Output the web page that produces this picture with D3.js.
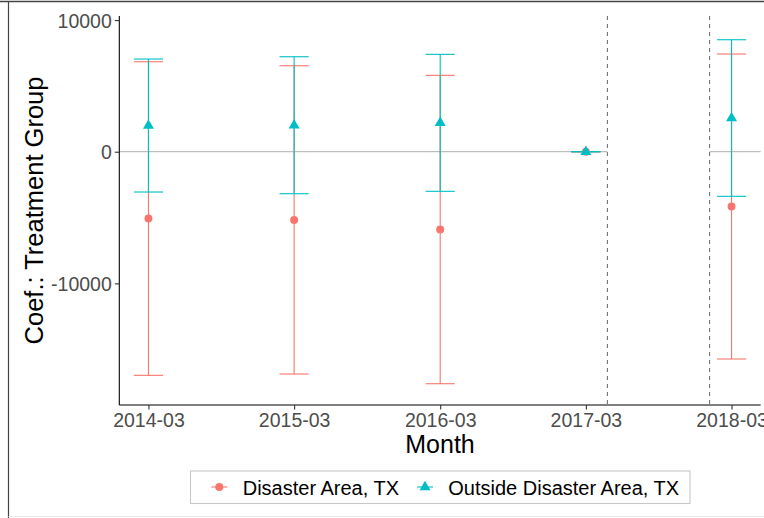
<!DOCTYPE html>
<html>
<head>
<meta charset="utf-8">
<script src="https://cdn.jsdelivr.net/npm/d3@7"></script>
<style>
  body { margin: 0; background: #fff; }
  svg { display: block; font-family: "Liberation Sans", Arial, sans-serif; }
</style>
</head>
<body>
<script>
// event-study coefficients
var months = ["2014-03", "2015-03", "2016-03", "2017-03", "2018-03"];
var seriesNames = ["Disaster Area, TX", "Outside Disaster Area, TX"];

var disasterCoef = [-5070, -5180, -5910, 0, -4160];
var disasterLow  = [-16985, -16886, -17623, 0, -15746];
var disasterHigh = [6836, 6532, 5803, 0, 7421];

var outsideCoef = [1990, 2010, 2200, 0, 2560];
var outsideLow  = [-3061, -3190, -3008, 0, -3388];
var outsideHigh = [7041, 7216, 7398, 0, 8507];

var yTicks = [-10000, 0, 10000];
var refDates = ["2017-04-24", "2018-01-05"]; // dashed vertical lines

var width = 764;
var height = 518;
var panel = {left: 119.3, right: 760.7, top: 16, bottom: 405};
var colors = ["#F8766D", "#00BFC4"];

var parseMonth = d3.timeParse("%Y-%m");
var parseDay = d3.timeParse("%Y-%m-%d");
var dates = months.map(parseMonth);

// ggplot style 5% expansion on each side
var span = dates[dates.length - 1] - dates[0];
var xScale = d3.scaleTime()
               .domain([new Date(+dates[0] - 0.05 * span), new Date(+dates[dates.length - 1] + 0.05 * span)])
               .range([panel.left, panel.right]);

var yScale = d3.scaleLinear()
               .domain([-19240, 10310])
               .range([panel.bottom, panel.top]);

var series = [
  {name: seriesNames[0], coef: disasterCoef, low: disasterLow, high: disasterHigh, color: colors[0]},
  {name: seriesNames[1], coef: outsideCoef, low: outsideLow, high: outsideHigh, color: colors[1]}
];

var svg = d3.select("body")
            .append("svg")
            .attr("width", width)
            .attr("height", height);

svg.append("rect").attr("width", width).attr("height", height).attr("fill", "#fff");

// outer frame of the screenshot
svg.append("line").attr("x1", 0).attr("x2", width).attr("y1", 1.5).attr("y2", 1.5)
   .attr("stroke", "#444").attr("stroke-width", 1.5);
svg.append("line").attr("x1", 8.5).attr("x2", 8.5).attr("y1", 1.5).attr("y2", height)
   .attr("stroke", "#444").attr("stroke-width", 1.2);
svg.append("line").attr("x1", 8.5).attr("x2", width).attr("y1", 516.5).attr("y2", 516.5)
   .attr("stroke", "#e6e6e6").attr("stroke-width", 1);

var plot = svg.append("g");

var refX = refDates.map(function(d){ return xScale(parseDay(d)); });

// zero line, interrupted between the dashed lines
plot.append("line")
    .attr("x1", panel.left).attr("x2", refX[0])
    .attr("y1", yScale(0)).attr("y2", yScale(0))
    .attr("stroke", "#BEBEBE").attr("stroke-width", 1.2);
plot.append("line")
    .attr("x1", refX[1]).attr("x2", panel.right)
    .attr("y1", yScale(0)).attr("y2", yScale(0))
    .attr("stroke", "#BEBEBE").attr("stroke-width", 1.2);

plot.selectAll(".ref")
    .data(refX)
    .enter()
    .append("line")
    .attr("class", "ref")
    .attr("x1", function(d){ return d; })
    .attr("x2", function(d){ return d; })
    .attr("y1", panel.top)
    .attr("y2", panel.bottom)
    .attr("stroke", "#777")
    .attr("stroke-width", 1.1)
    .attr("stroke-dasharray", "4,4");

var capHalf = 14.6;

series.forEach(function(s){
  var g = plot.append("g");
  dates.forEach(function(d, i){
    var x = xScale(d);
    g.append("line")
     .attr("x1", x).attr("x2", x)
     .attr("y1", yScale(s.low[i])).attr("y2", yScale(s.high[i]))
     .attr("stroke", s.color).attr("stroke-width", 1.1);
    g.append("line")
     .attr("x1", x - capHalf).attr("x2", x + capHalf)
     .attr("y1", yScale(s.low[i])).attr("y2", yScale(s.low[i]))
     .attr("stroke", s.color).attr("stroke-width", 1.1);
    g.append("line")
     .attr("x1", x - capHalf).attr("x2", x + capHalf)
     .attr("y1", yScale(s.high[i])).attr("y2", yScale(s.high[i]))
     .attr("stroke", s.color).attr("stroke-width", 1.1);
  });
});

var circleSym = d3.symbol().type(d3.symbolCircle).size(50);
var triSym = d3.symbol().type(d3.symbolTriangle).size(52);

series.forEach(function(s, k){
  plot.selectAll(".pt" + k)
      .data(dates)
      .enter()
      .append("path")
      .attr("class", "pt" + k)
      .attr("d", k == 0 ? circleSym : triSym)
      .attr("transform", function(d, i){
        return "translate(" + xScale(d) + "," + yScale(s.coef[i]) + ")";
      })
      .attr("fill", s.color);
});

// axes
var xAxis = d3.axisBottom(xScale)
              .tickValues(dates)
              .tickFormat(d3.timeFormat("%Y-%m"))
              .tickSize(4.5)
              .tickSizeOuter(0);

var yAxis = d3.axisLeft(yScale)
              .tickValues(yTicks)
              .tickFormat(function(d){ return String(d); }) // plain hyphen, no thousands comma
              .tickSize(4.5)
              .tickSizeOuter(0);

var gx = svg.append("g")
            .attr("transform", "translate(0," + panel.bottom + ")")
            .call(xAxis);
var gy = svg.append("g")
            .attr("transform", "translate(" + panel.left + ",0)")
            .call(yAxis);

[gx, gy].forEach(function(g){
  g.select(".domain").attr("stroke", "#000").attr("stroke-width", 1.1);
  g.selectAll(".tick line").attr("stroke", "#333").attr("stroke-width", 1.1);
  g.selectAll(".tick text")
   .attr("fill", "#4D4D4D")
   .attr("font-size", "19.5px")
   .attr("font-family", "'Liberation Sans', Arial, sans-serif");
});
gx.select(".domain").attr("d", "M" + panel.left + ",0H" + panel.right);
gy.select(".domain").attr("d", "M0," + panel.top + "V" + panel.bottom);
gx.selectAll(".tick text").attr("dy", "0").attr("y", 22.3);
gy.selectAll(".tick text").attr("x", -7.5).attr("dy", "0.36em");

// titles
svg.append("text")
   .text("Month")
   .attr("x", (panel.left + panel.right) / 2)
   .attr("y", 453.3)
   .attr("text-anchor", "middle")
   .attr("font-size", "25px")
   .attr("fill", "#000");

svg.append("text")
   .text("Coef.: Treatment Group")
   .attr("transform", "translate(43," + ((panel.top + panel.bottom) / 2) + ") rotate(-90)")
   .attr("text-anchor", "middle")
   .attr("font-size", "25.5px")
   .attr("fill", "#000");

// legend
var legend = svg.append("g");
legend.append("rect")
      .attr("x", 190.5).attr("y", 471)
      .attr("width", 499.5).attr("height", 32.5)
      .attr("fill", "#fff")
      .attr("stroke", "#C8C8C8")
      .attr("stroke-width", 1.1);

var keyX = [219.3, 425];
var labelX = [242.7, 448.3];
series.forEach(function(s, k){
  legend.append("line")
        .attr("x1", keyX[k] - 8).attr("x2", keyX[k] + 8)
        .attr("y1", 487).attr("y2", 487)
        .attr("stroke", s.color).attr("stroke-width", 1.1);
  legend.append("path")
        .attr("d", k == 0 ? circleSym : triSym)
        .attr("transform", "translate(" + keyX[k] + ",487)")
        .attr("fill", s.color);
  legend.append("text")
        .text(s.name)
        .attr("x", labelX[k])
        .attr("y", 494.5)
        .attr("font-size", "20px")
        .attr("fill", "#000");
});
</script>
</body>
</html>
